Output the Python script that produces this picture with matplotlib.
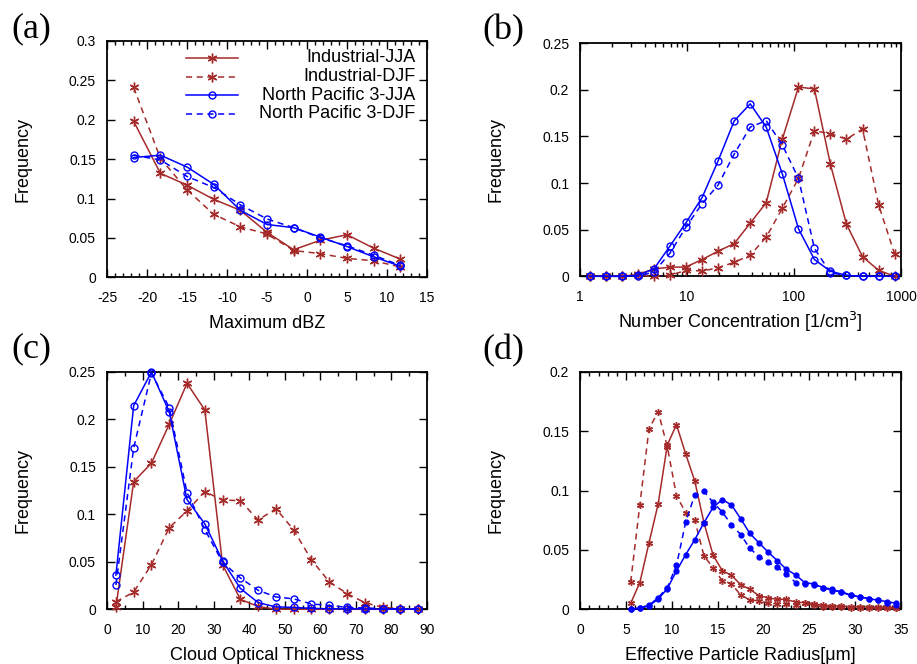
import matplotlib
matplotlib.use("Agg")
import matplotlib.pyplot as plt
from matplotlib.lines import Line2D
from matplotlib.ticker import MultipleLocator, FormatStrFormatter, FixedLocator, NullFormatter

plt.rcParams['font.family'] = ['Liberation Sans', 'DejaVu Sans']
plt.rcParams['axes.unicode_minus'] = False

RED = '#a52a2a'
BLUE = '#0000ff'
labels = ['Industrial-JJA', 'Industrial-DJF', 'North Pacific 3-JJA', 'North Pacific 3-DJF']

# (a) Maximum dBZ
dbz = [-21.67, -18.33, -15.0, -11.67, -8.33, -5.0, -1.67, 1.67, 5.0, 8.33, 11.67]
dbz_ind_jja = [0.198, 0.132, 0.117, 0.099, 0.085, 0.057, 0.035, 0.047, 0.054, 0.037, 0.023]
dbz_ind_djf = [0.241, 0.151, 0.111, 0.080, 0.064, 0.055, 0.034, 0.030, 0.024, 0.021, 0.013]
dbz_np_jja = [0.152, 0.155, 0.140, 0.118, 0.085, 0.067, 0.063, 0.051, 0.039, 0.026, 0.014]
dbz_np_djf = [0.155, 0.149, 0.128, 0.114, 0.092, 0.074, 0.063, 0.050, 0.040, 0.028, 0.015]

# (b) Number concentration
nc = [1.23, 1.74, 2.46, 3.47, 4.9, 6.92, 9.77, 13.8, 19.5, 27.5,
      38.9, 54.9, 77.6, 110, 155, 219, 309, 437, 617, 871]
nc_ind_jja = [0, 0, 0, 0.002, 0.008, 0.0097, 0.010, 0.018, 0.027, 0.035,
              0.057, 0.079, 0.147, 0.203, 0.201, 0.120, 0.056, 0.021, 0.0065, 0]
nc_ind_djf = [0, 0, 0, 0.001, 0, 0.001, 0.0064, 0.0057, 0.009, 0.015,
              0.0225, 0.042, 0.073, 0.105, 0.156, 0.153, 0.147, 0.158, 0.077, 0.024]
nc_np_jja = [0, 0, 0, 0.001, 0.008, 0.0326, 0.0577, 0.0845, 0.124, 0.1665,
             0.185, 0.160, 0.110, 0.051, 0.018, 0.0054, 0.001, 0, 0, 0]
nc_np_djf = [0, 0, 0, 0, 0.0047, 0.025, 0.053, 0.078, 0.098, 0.131,
             0.160, 0.167, 0.141, 0.105, 0.030, 0.0036, 0.001, 0, 0, 0]

# (c) Cloud optical thickness
cot = [2.5, 7.5, 12.5, 17.5, 22.5, 27.5, 32.5, 37.5, 42.5, 47.5,
       52.5, 57.5, 62.5, 67.5, 72.5, 77.5, 82.5, 87.5]
cot_ind_jja = [0.002, 0.1345, 0.154, 0.195, 0.238, 0.210, 0.047, 0.0105, 0.003, 0,
               0, 0, 0, 0, 0, 0, 0, 0]
cot_ind_djf = [0.008, 0.018, 0.047, 0.086, 0.1036, 0.124, 0.115, 0.1145, 0.094, 0.106,
               0.0836, 0.052, 0.029, 0.0165, 0.007, 0.002, 0.0007, 0.0005]
cot_np_jja = [0.036, 0.2145, 0.250, 0.208, 0.1155, 0.090, 0.051, 0.022, 0.007, 0.0025,
              0.002, 0.001, 0.0005, 0.0005, 0.0003, 0.0002, 0.0001, 0.0001]
cot_np_djf = [0.0256, 0.170, 0.249, 0.2125, 0.123, 0.084, 0.0495, 0.033, 0.020, 0.013,
              0.011, 0.0056, 0.004, 0.002, 0.0014, 0.0007, 0.0003, 0.0003]

# (d) Effective particle radius
re = [5.5, 6.5, 7.5, 8.5, 9.5, 10.5, 11.5, 12.5, 13.5, 14.5,
      15.5, 16.5, 17.5, 18.5, 19.5, 20.5, 21.5, 22.5, 23.5, 24.5,
      25.5, 26.5, 27.5, 28.5, 29.5, 30.5, 31.5, 32.5, 33.5, 34.5]
re_ind_jja = [0.005, 0.0225, 0.056, 0.0888, 0.1385, 0.1556, 0.131, 0.108, 0.073, 0.0455,
              0.0326, 0.0287, 0.0208, 0.0169, 0.0115, 0.0096, 0.0084, 0.0084, 0.006, 0.0056,
              0.0045, 0.0034, 0.003, 0.0025, 0.0022, 0.002, 0.002, 0.0017, 0.0017, 0.0014]
re_ind_djf = [0.023, 0.088, 0.152, 0.1666, 0.137, 0.0958, 0.0815, 0.075, 0.045, 0.035,
              0.024, 0.0216, 0.012, 0.008, 0.007, 0.005, 0.0045, 0.0045, 0.0034, 0.005,
              0.0034, 0.002, 0.002, 0.0016, 0.0014, 0.0012, 0.0011, 0.001, 0.0009, 0.0008]
re_np_jja = [0.0003, 0.001, 0.003, 0.0085, 0.0174, 0.0323, 0.046, 0.0587, 0.073, 0.086,
             0.0924, 0.088, 0.0764, 0.064, 0.056, 0.0483, 0.041, 0.0337, 0.029, 0.0225,
             0.0213, 0.0183, 0.0169, 0.0143, 0.0118, 0.0104, 0.009, 0.0076, 0.0065, 0.005]
re_np_djf = [0.0002, 0.0008, 0.0034, 0.0098, 0.0183, 0.037, 0.0733, 0.0966, 0.0994, 0.090,
             0.082, 0.0713, 0.063, 0.0514, 0.0444, 0.0396, 0.0354, 0.0298, 0.0225, 0.0213,
             0.0205, 0.0183, 0.0157, 0.0149, 0.012, 0.0104, 0.009, 0.0079, 0.0056, 0.0037]

ASTER = (6, 2, 0)
styles = [dict(color=RED, ls='-', marker=ASTER),
          dict(color=RED, ls=(0, (4, 3)), marker=ASTER),
          dict(color=BLUE, ls='-', marker='o', mfc='none'),
          dict(color=BLUE, ls=(0, (4, 3)), marker='o', mfc='none')]


def draw(ax, x, series, ms_star=7, ms_circ=5, circ_filled=False):
    for y, st in zip(series, styles):
        st = dict(st)
        if st['marker'] == 'o':
            ms = ms_circ
            if circ_filled:
                st['mfc'] = BLUE
        else:
            ms = ms_star
        ax.plot(x, y, lw=1.1, ms=ms, mew=1.0, clip_on=False, zorder=3, **st)


def style(ax, ylim, ystep, xlabel, xlab_y=-0.16):
    ax.set_ylim(*ylim)
    ax.yaxis.set_major_locator(MultipleLocator(ystep))
    ax.yaxis.set_major_formatter(FormatStrFormatter('%g'))
    ax.tick_params(which='both', direction='in', top=True, right=True, labelsize=10)
    ax.tick_params(which='major', length=6, width=1.0)
    ax.tick_params(which='minor', length=3, width=1.0)
    ax.tick_params(axis='x', pad=10)
    ax.tick_params(axis='y', pad=8)
    for s in ax.spines.values():
        s.set_linewidth(1.3)
    ax.set_ylabel('Frequency', fontsize=13)
    ax.set_xlabel(xlabel, fontsize=13)
    ax.yaxis.set_label_coords(-0.235, 0.5)
    ax.xaxis.set_label_coords(0.5, xlab_y)


fig = plt.figure(figsize=(9.17, 6.64), dpi=100)
ax_a = fig.add_axes([0.1167, 0.5824, 0.349, 0.3559])
ax_b = fig.add_axes([0.6328, 0.5839, 0.3497, 0.351])
ax_c = fig.add_axes([0.1167, 0.0824, 0.349, 0.3574])
ax_d = fig.add_axes([0.6328, 0.0824, 0.3497, 0.3574])

# (a)
draw(ax_a, dbz, [dbz_ind_jja, dbz_ind_djf, dbz_np_jja, dbz_np_djf])
ax_a.set_xlim(-25, 15)
ax_a.xaxis.set_major_locator(MultipleLocator(5))
ax_a.xaxis.set_minor_locator(MultipleLocator(1))
style(ax_a, (0, 0.3), 0.05, 'Maximum dBZ')
rows = [0.928, 0.849, 0.771, 0.693]
for lab, st, yr in zip(labels, styles, rows):
    ax_a.add_line(Line2D([0.247, 0.409], [yr, yr], transform=ax_a.transAxes,
                         color=st['color'], ls=st['ls'], lw=1.1))
    ax_a.add_line(Line2D([0.328], [yr], transform=ax_a.transAxes, color=st['color'],
                         marker=st['marker'], mfc=st.get('mfc', st['color']),
                         ms=7 if st['marker'] != 'o' else 5, mew=1.0, ls='none'))
    ax_a.text(0.963, yr, lab, transform=ax_a.transAxes, ha='right', va='center', fontsize=13)

# (b)
draw(ax_b, nc, [nc_ind_jja, nc_ind_djf, nc_np_jja, nc_np_djf])
ax_b.set_xscale('log')
ax_b.set_xlim(1, 1000)
ax_b.xaxis.set_major_locator(FixedLocator([1, 10, 100, 1000]))
ax_b.xaxis.set_major_formatter(FormatStrFormatter('%g'))
ax_b.xaxis.set_minor_formatter(NullFormatter())
style(ax_b, (0, 0.25), 0.05, r'Number Concentration [1/cm$^3$]', xlab_y=-0.145)

# (c)
draw(ax_c, cot, [cot_ind_jja, cot_ind_djf, cot_np_jja, cot_np_djf])
ax_c.set_xlim(0, 90)
ax_c.xaxis.set_major_locator(MultipleLocator(10))
ax_c.xaxis.set_minor_locator(MultipleLocator(5))
style(ax_c, (0, 0.25), 0.05, 'Cloud Optical Thickness')

# (d)
draw(ax_d, re, [re_ind_jja, re_ind_djf, re_np_jja, re_np_djf], ms_star=5, ms_circ=3.5, circ_filled=True)
ax_d.set_xlim(0, 35)
ax_d.xaxis.set_major_locator(MultipleLocator(5))
ax_d.xaxis.set_minor_locator(MultipleLocator(1))
style(ax_d, (0, 0.2), 0.05, 'Effective Particle Radius[μm]')

for lab, x, y in [('(a)', 0.012, 0.957), ('(b)', 0.526, 0.954), ('(c)', 0.012, 0.475), ('(d)', 0.526, 0.472)]:
    fig.text(x, y, lab, fontsize=26, family=['Liberation Serif', 'DejaVu Serif'], va='center', ha='left')

fig.savefig('out.png', dpi=100)
